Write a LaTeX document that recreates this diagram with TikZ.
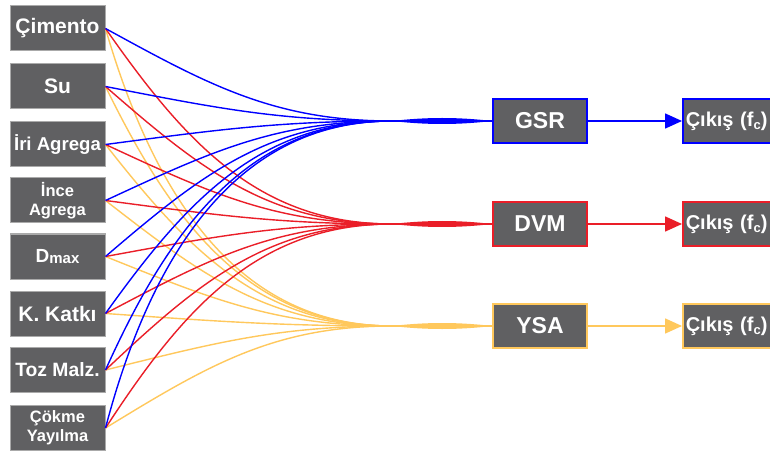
\documentclass[tikz,border=0pt]{standalone}
\usepackage{fontspec}
\setmainfont{Liberation Sans}
\usetikzlibrary{arrows.meta}
\definecolor{boxgray}{RGB}{96,96,98}
\definecolor{edgegray}{RGB}{170,170,170}
\definecolor{cblue}{RGB}{0,0,255}
\definecolor{cred}{RGB}{234,30,40}
\definecolor{corange}{RGB}{255,200,92}
\tikzset{
  inbox/.style={draw=edgegray, line width=1pt, fill=boxgray, text=white,
    font=\bfseries, minimum width=95pt, minimum height=45pt, inner sep=0pt, align=center},
  twoline/.style={font=\bfseries\fontsize{16.5}{19}\selectfont},
  midbox/.style={fill=boxgray, text=white, line width=1.5pt,
    font=\bfseries\fontsize{23}{24}\selectfont, minimum width=94pt, minimum height=44pt, inner sep=0pt},
  outbox/.style={fill=boxgray, text=white, line width=1.5pt, anchor=west,
    font=\bfseries\fontsize{20}{22}\selectfont, minimum height=44pt, text width=112pt,
    align=left, inner xsep=3pt, inner ysep=0pt},
  link/.style={line width=1.4pt},
  outarrow/.style={line width=1.6pt, -{Triangle[length=17pt,width=15pt]}}
}
\newcommand{\fs}[1]{\fontsize{#1}{#1}\selectfont}
\begin{document}
\begin{tikzpicture}[x=1pt,y=-1pt]
\useasboundingbox (0,0) rectangle (770,454);
\clip (0,0) rectangle (770,454);
\fill[white] (0,0) rectangle (770,454);
% input boxes
\node[inbox] (in1) at (57.5,28.5) {\fs{21}Çimento};
\node[inbox] (in2) at (57.5,86.5) {\fs{21}Su};
\node[inbox] (in3) at (57.5,144.5) {\fs{18.6}İri Agrega};
\node[inbox, twoline] (in4) at (57.5,200.5) {İnce\\Agrega};
\node[inbox] (in5) at (57.5,256.5) {\fs{19}D\raisebox{-1.5pt}{\fs{15}max}};
\node[inbox] (in6) at (57.5,313.5) {\fs{21}K. Katkı};
\node[inbox] (in7) at (57.5,370) {\fs{19.3}Toz Malz.};
\node[inbox, twoline] (in8) at (57.5,428) {Çökme\\Yayılma};
% model boxes
\node[midbox, draw=cblue] (gsr) at (540,121) {GSR};
\node[midbox, draw=cred] (dvm) at (540,224) {DVM};
\node[midbox, draw=corange] (ysa) at (540,326) {YSA};
% output boxes
\node[outbox, draw=cblue] (o1) at (682,121) {Çıkış (f\raisebox{-3pt}{\fs{13}c})};
\node[outbox, draw=cred] (o2) at (682,224) {Çıkış (f\raisebox{-3pt}{\fs{13}c})};
\node[outbox, draw=corange] (o3) at (682,326) {Çıkış (f\raisebox{-3pt}{\fs{13}c})};
% convergence points
\coordinate (pg) at (392,121);
\coordinate (pd) at (392,224);
\coordinate (py) at (392,326);
% curves
\foreach \t/\yt/\col in {y/326/corange, d/224/cred, g/121/cblue} {
  \foreach \i/\ys in {1/28.5, 2/86.5, 3/144.5, 4/200.5, 5/256.5, 6/313.5, 7/370, 8/428} {
    \pgfmathsetmacro\ang{1.6*atan2(\yt-\ys,287)}
    \pgfmathsetmacro\L{0.39*veclen(287,\yt-\ys)}
    \pgfmathsetmacro\cx{105+\L*cos(\ang)}
    \pgfmathsetmacro\cy{\ys+\L*sin(\ang)}
    \pgfmathsetmacro\dx{392-\L}
    \draw[link, draw=\col] (in\i.east) .. controls (\cx,\cy) and (\dx,\yt) .. (p\t);
  }
}
% lenses
\foreach \p/\b/\col in {pg/gsr/cblue, pd/dvm/cred, py/ysa/corange} {
  \draw[line width=1.6pt, draw=\col] ([xshift=-12pt]\p) -- (\b.west);
  \fill[\col] (\p) .. controls +(35,-4) and +(-35,-4) .. (\b.west) .. controls +(-35,4) and +(35,4) .. (\p) -- cycle;
}
% arrows
\draw[outarrow, draw=cblue, fill=cblue] (gsr.east) -- (o1.west);
\draw[outarrow, draw=cred, fill=cred] (dvm.east) -- (o2.west);
\draw[outarrow, draw=corange, fill=corange] (ysa.east) -- (o3.west);
\end{tikzpicture}
\end{document}
